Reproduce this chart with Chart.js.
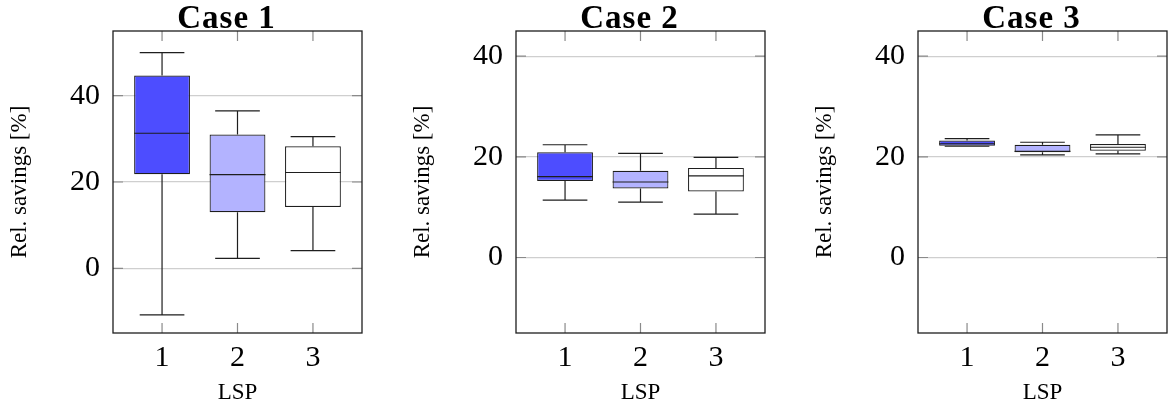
<!DOCTYPE html>
<html>
<head>
<meta charset="utf-8">
<script src="https://cdn.jsdelivr.net/npm/chart.js@4/dist/chart.umd.min.js"></script>
<style>
  html, body { margin: 0; padding: 0; background: #fff; }
  body { width: 1168px; height: 408px; position: relative; overflow: hidden; }
  .panel { position: absolute; top: 0; width: 363px; height: 408px; }
</style>
</head>
<body>
<div class="panel" style="left:0px"><canvas id="c1" width="363" height="408"></canvas></div>
<div class="panel" style="left:403px"><canvas id="c2" width="363" height="408"></canvas></div>
<div class="panel" style="left:805px"><canvas id="c3" width="363" height="408"></canvas></div>
<script>
// LSP categories and tick values
const lsp = [1, 2, 3];
const yTicks = [0, 20, 40];
const boxColors = ['#4d4dff', '#b3b3ff', '#ffffff'];

// Case 1 box-plot statistics (relative savings in %)
const case1Min = [-10.8, 2.3, 4.1];
const case1Q1  = [21.8, 13.0, 14.2];
const case1Med = [31.3, 21.7, 22.2];
const case1Q3  = [44.7, 31.0, 28.3];
const case1Max = [50.0, 36.5, 30.5];

// Case 2
const case2Min = [11.4, 11.0, 8.6];
const case2Q1  = [15.2, 13.7, 13.1];
const case2Med = [16.05, 15.0, 16.2];
const case2Q3  = [20.9, 17.25, 17.8];
const case2Max = [22.4, 20.7, 19.9];

// Case 3
const case3Min = [22.1, 20.4, 20.6];
const case3Q1  = [22.2, 20.9, 21.2];
const case3Med = [22.6, 21.1, 21.9];
const case3Q3  = [23.25, 22.4, 22.55];
const case3Max = [23.6, 22.9, 24.35];

const INK = '#1e1e1e';

// Whiskers, caps and median lines for each box, positioned through the chart scales
const whiskerPlugin = {
  id: 'whiskers',
  afterDatasetsDraw(chart, args, opts) {
    const { ctx } = chart;
    const xs = chart.scales.x, ys = chart.scales.y;
    const meta = chart.getDatasetMeta(0);
    ctx.save();
    ctx.strokeStyle = INK;
    ctx.lineWidth = 1.2;
    opts.stats.x.forEach((xv, i) => {
      const cx = xs.getPixelForValue(xv);
      const bar = meta.data[i];
      const halfBox = bar.width / 2;
      const halfCap = halfBox * 0.8;
      const pMin = ys.getPixelForValue(opts.stats.min[i]);
      const pQ1 = ys.getPixelForValue(opts.stats.q1[i]);
      const pMed = ys.getPixelForValue(opts.stats.med[i]);
      const pQ3 = ys.getPixelForValue(opts.stats.q3[i]);
      const pMax = ys.getPixelForValue(opts.stats.max[i]);
      ctx.beginPath();
      ctx.moveTo(cx, pQ3); ctx.lineTo(cx, pMax);
      ctx.moveTo(cx - halfCap, pMax); ctx.lineTo(cx + halfCap, pMax);
      ctx.moveTo(cx, pQ1); ctx.lineTo(cx, pMin);
      ctx.moveTo(cx - halfCap, pMin); ctx.lineTo(cx + halfCap, pMin);
      ctx.moveTo(cx - halfBox, pMed); ctx.lineTo(cx + halfBox, pMed);
      ctx.stroke();
    });
    ctx.restore();
  }
};

// Inner tick marks on all four sides, plus the frame around the plot area
const framePlugin = {
  id: 'frame',
  beforeDatasetsDraw(chart) {
    const { ctx, chartArea: a } = chart;
    const xs = chart.scales.x, ys = chart.scales.y;
    const len = 10;
    ctx.save();
    ctx.strokeStyle = '#8a8a8a';
    ctx.lineWidth = 1.2;
    ctx.beginPath();
    ys.ticks.forEach(t => {
      const y = ys.getPixelForValue(t.value);
      ctx.moveTo(a.left, y); ctx.lineTo(a.left + len, y);
      ctx.moveTo(a.right - len, y); ctx.lineTo(a.right, y);
    });
    xs.ticks.forEach(t => {
      const x = xs.getPixelForValue(t.value);
      ctx.moveTo(x, a.bottom); ctx.lineTo(x, a.bottom - len);
      ctx.moveTo(x, a.top); ctx.lineTo(x, a.top + len);
    });
    ctx.stroke();
    ctx.restore();
  },
  afterDraw(chart) {
    const { ctx, chartArea: a } = chart;
    ctx.save();
    ctx.strokeStyle = INK;
    ctx.lineWidth = 1.3;
    ctx.strokeRect(a.left, a.top, a.right - a.left, a.bottom - a.top);
    ctx.restore();
  }
};

// Bold heading above each plot
const headingPlugin = {
  id: 'heading',
  afterDraw(chart, args, opts) {
    const { ctx, chartArea: a } = chart;
    ctx.save();
    ctx.fillStyle = '#000';
    ctx.font = 'bold 33px "Liberation Serif"';
    ctx.letterSpacing = '1px';
    ctx.textAlign = 'center';
    ctx.textBaseline = 'alphabetic';
    ctx.fillText(opts.text, (a.left + a.right) / 2 - 11, a.top - 3);
    ctx.restore();
  }
};

function makeBoxChart(id, title, yMax, mins, q1s, meds, q3s, maxs) {
  const data = lsp.map((x, i) => ({ x: x, y: [q1s[i], q3s[i]] }));
  return new Chart(document.getElementById(id), {
    type: 'bar',
    data: {
      datasets: [{
        data: data,
        backgroundColor: boxColors,
        borderColor: INK,
        borderWidth: 1.2,
        borderSkipped: false,
        barPercentage: 0.74,
        categoryPercentage: 1.0
      }]
    },
    options: {
      responsive: false,
      animation: false,
      devicePixelRatio: 1,
      layout: { padding: { top: 31, right: 1, left: 0, bottom: 0 } },
      plugins: {
        legend: { display: false },
        tooltip: { enabled: false },
        heading: { text: title },
        whiskers: { stats: { x: lsp, min: mins, q1: q1s, med: meds, q3: q3s, max: maxs } }
      },
      scales: {
        x: {
          type: 'linear',
          offset: false,
          min: 0.35,
          max: 3.65,
          afterBuildTicks: s => { s.ticks = lsp.map(v => ({ value: v })); },
          afterFit: s => { s.height = 75; },
          grid: { display: false, offset: false },
          border: { display: false },
          ticks: {
            color: '#000',
            padding: -1,
            font: { family: 'Liberation Serif', size: 30 },
            callback: v => String(v)
          },
          title: {
            display: true,
            text: 'LSP',
            color: '#000',
            font: { family: 'Liberation Serif', size: 23 },
            padding: { top: 0, bottom: 1 }
          }
        },
        y: {
          min: -15,
          max: yMax,
          afterBuildTicks: s => { s.ticks = yTicks.map(v => ({ value: v })); },
          afterFit: s => { s.width = 113; },
          grid: { color: '#cfcfcf', lineWidth: 1.2, drawTicks: false },
          border: { display: false },
          ticks: {
            color: '#000',
            padding: 13,
            font: { family: 'Liberation Serif', size: 30 },
            callback: v => String(v)
          },
          title: {
            display: true,
            text: 'Rel. savings [%]',
            color: '#000',
            font: { family: 'Liberation Serif', size: 23 },
            padding: { top: 6, bottom: 0 }
          }
        }
      }
    },
    plugins: [framePlugin, whiskerPlugin, headingPlugin]
  });
}

makeBoxChart('c1', 'Case 1', 55, case1Min, case1Q1, case1Med, case1Q3, case1Max);
makeBoxChart('c2', 'Case 2', 45, case2Min, case2Q1, case2Med, case2Q3, case2Max);
makeBoxChart('c3', 'Case 3', 45, case3Min, case3Q1, case3Med, case3Q3, case3Max);
</script>
</body>
</html>
